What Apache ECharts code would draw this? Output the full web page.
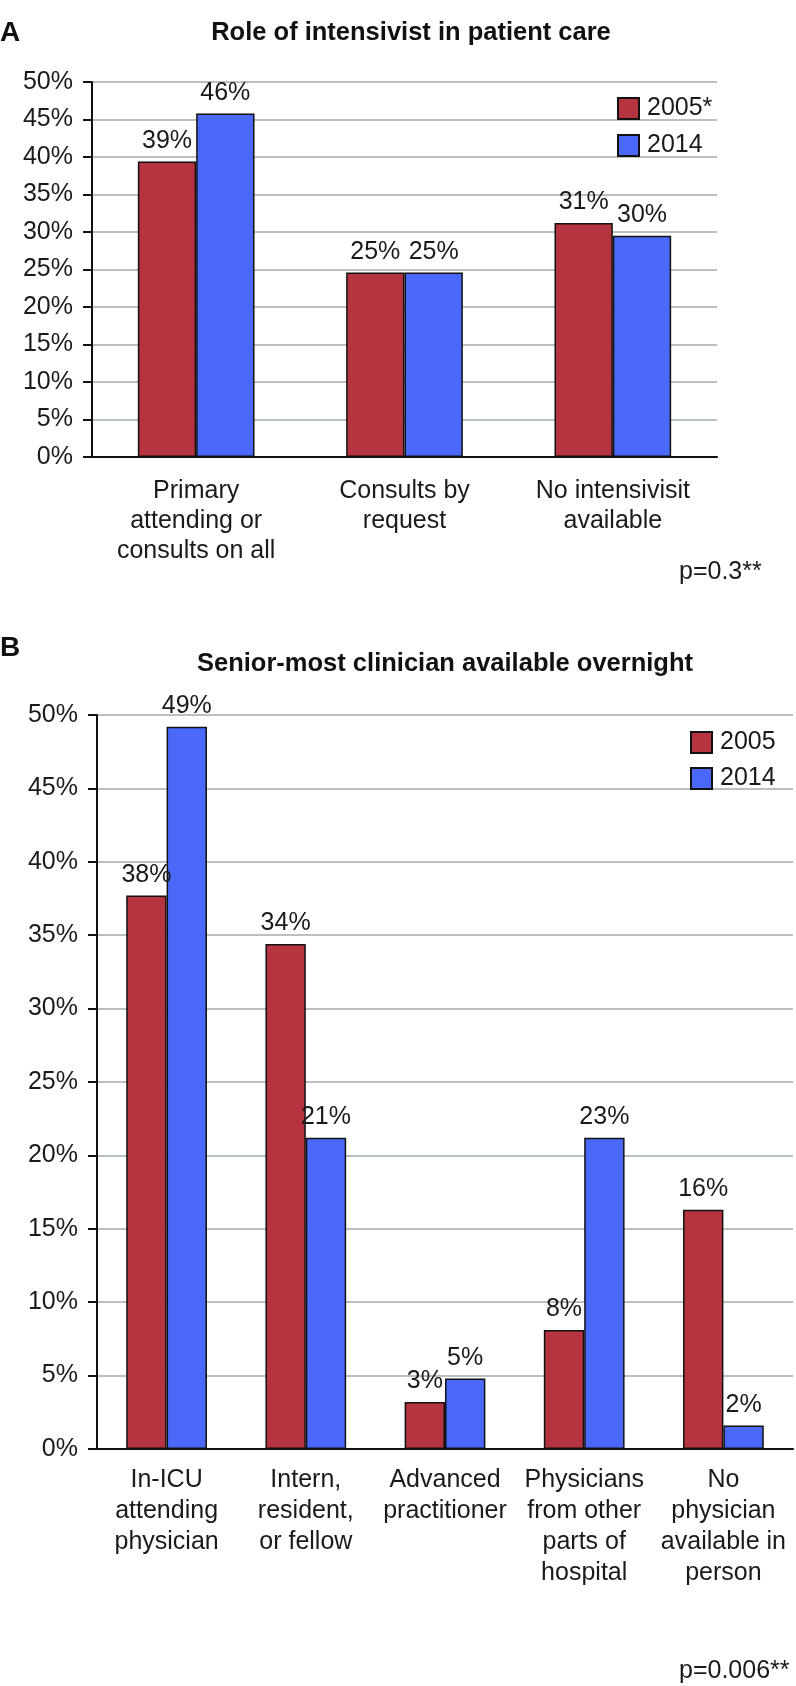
<!DOCTYPE html>
<html>
<head>
<meta charset="utf-8">
<style>
  html, body { margin: 0; padding: 0; background: #ffffff; }
  #chart { width: 796px; height: 1686px; }
</style>
<script src="https://cdn.jsdelivr.net/npm/echarts@6/dist/echarts.min.js"></script>
</head>
<body>
<div id="chart"></div>
<script>
// ---- Panel A data ----
const catsA = ['Primary\nattending or\nconsults on all', 'Consults by\nrequest', 'No intensivisit\navailable'];
const a2005 = [39.4, 24.6, 31.2];
const a2014 = [45.8, 24.6, 29.5];
const a2005Labels = ['39%', '25%', '31%'];
const a2014Labels = ['46%', '25%', '30%'];

// ---- Panel B data ----
const catsB = ['In-ICU\nattending\nphysician', 'Intern,\nresident,\nor fellow', 'Advanced\npractitioner', 'Physicians\nfrom other\nparts of\nhospital', 'No\nphysician\navailable in\nperson'];
const b2005 = [37.7, 34.4, 3.2, 8.1, 16.3];
const b2014 = [49.2, 21.2, 4.8, 21.2, 1.6];
const b2005Labels = ['38%', '34%', '3%', '8%', '16%'];
const b2014Labels = ['49%', '21%', '5%', '23%', '2%'];

const yTicks = { min: 0, max: 50, interval: 5 };

const FONT = '"Liberation Sans", Arial, Helvetica, sans-serif';
const TXT = '#1a1a1a';
const RED = '#b5343f';
const BLUE = '#4a69fa';
const FS = 25;

function yAxis(gi) {
  return {
    type: 'value', gridIndex: gi, min: yTicks.min, max: yTicks.max, interval: yTicks.interval,
    axisLine: { show: true, lineStyle: { color: '#111', width: 2 } },
    axisTick: { show: true, length: 9, lineStyle: { color: '#111', width: 2 } },
    axisLabel: { formatter: '{value}%', fontSize: FS, color: TXT, fontFamily: FONT, margin: 19 },
    splitLine: { show: true, lineStyle: { color: '#a3abab', width: 1.5 } }
  };
}
function xAxis(gi, cats, margin, lh) {
  return {
    type: 'category', gridIndex: gi, data: cats,
    axisLine: { show: true, lineStyle: { color: '#111', width: 2 } },
    axisTick: { show: false },
    axisLabel: { interval: 0, fontSize: FS, lineHeight: lh, color: TXT, fontFamily: FONT, margin: margin, hideOverlap: false }
  };
}
function barSeries(name, gi, data, labels, color, gap) {
  return {
    name: name, type: 'bar', xAxisIndex: gi, yAxisIndex: gi, data: data,
    barGap: '0%', barCategoryGap: gap,
    itemStyle: { color: color, borderColor: '#111', borderWidth: 1.5 },
    label: {
      show: true, position: 'top', distance: 8, fontSize: FS, color: TXT, fontFamily: FONT,
      formatter: (p) => labels[p.dataIndex]
    }
  };
}

const chart = echarts.init(document.getElementById('chart'), null, { renderer: 'canvas' });
chart.setOption({
  backgroundColor: '#ffffff',
  animation: false,
  grid: [
    { left: 92, right: 79, top: 82, height: 375, containLabel: false },
    { left: 97, right: 3, top: 715, height: 734, containLabel: false }
  ],
  xAxis: [xAxis(0, catsA, 19, 30), xAxis(1, catsB, 16, 31)],
  yAxis: [yAxis(0), yAxis(1)],
  legend: [
    {
      left: 612, top: 91, orient: 'vertical', itemWidth: 21, itemHeight: 21, itemGap: 12,
      data: ['2005*', '2014'], textStyle: { fontSize: FS, color: TXT, fontFamily: FONT, padding: [0, 0, 0, 3] },
      icon: 'rect'
    },
    {
      left: 685, top: 725, orient: 'vertical', itemWidth: 21, itemHeight: 21, itemGap: 11,
      data: ['2005', '2014 '], textStyle: { fontSize: FS, color: TXT, fontFamily: FONT, padding: [0, 0, 0, 3] },
      icon: 'rect', formatter: (n) => n.trim()
    }
  ],
  series: [
    barSeries('2005*', 0, a2005, a2005Labels, RED, '44%'),
    barSeries('2014', 0, a2014, a2014Labels, BLUE, '44%'),
    barSeries('2005', 1, b2005, b2005Labels, RED, '42%'),
    barSeries('2014 ', 1, b2014, b2014Labels, BLUE, '42%')
  ],
  graphic: [
    { type: 'text', left: 0, top: 19, style: { text: 'A', font: 'bold 28px ' + FONT, fill: '#111' } },
    { type: 'text', left: 0, top: 634, style: { text: 'B', font: 'bold 28px ' + FONT, fill: '#111' } },
    { type: 'text', x: 411, y: 33, style: { text: 'Role of intensivist in patient care', font: 'bold 25.5px ' + FONT, fill: '#111', textAlign: 'center', textVerticalAlign: 'middle' } },
    { type: 'text', x: 445, y: 664, style: { text: 'Senior-most clinician available overnight', font: 'bold 25.5px ' + FONT, fill: '#111', textAlign: 'center', textVerticalAlign: 'middle' } },
    { type: 'text', x: 679, y: 572, style: { text: 'p=0.3**', font: FS + 'px ' + FONT, fill: TXT, textAlign: 'left', textVerticalAlign: 'middle' } },
    { type: 'text', x: 679, y: 1671, style: { text: 'p=0.006**', font: FS + 'px ' + FONT, fill: TXT, textAlign: 'left', textVerticalAlign: 'middle' } }
  ]
});
</script>
</body>
</html>
